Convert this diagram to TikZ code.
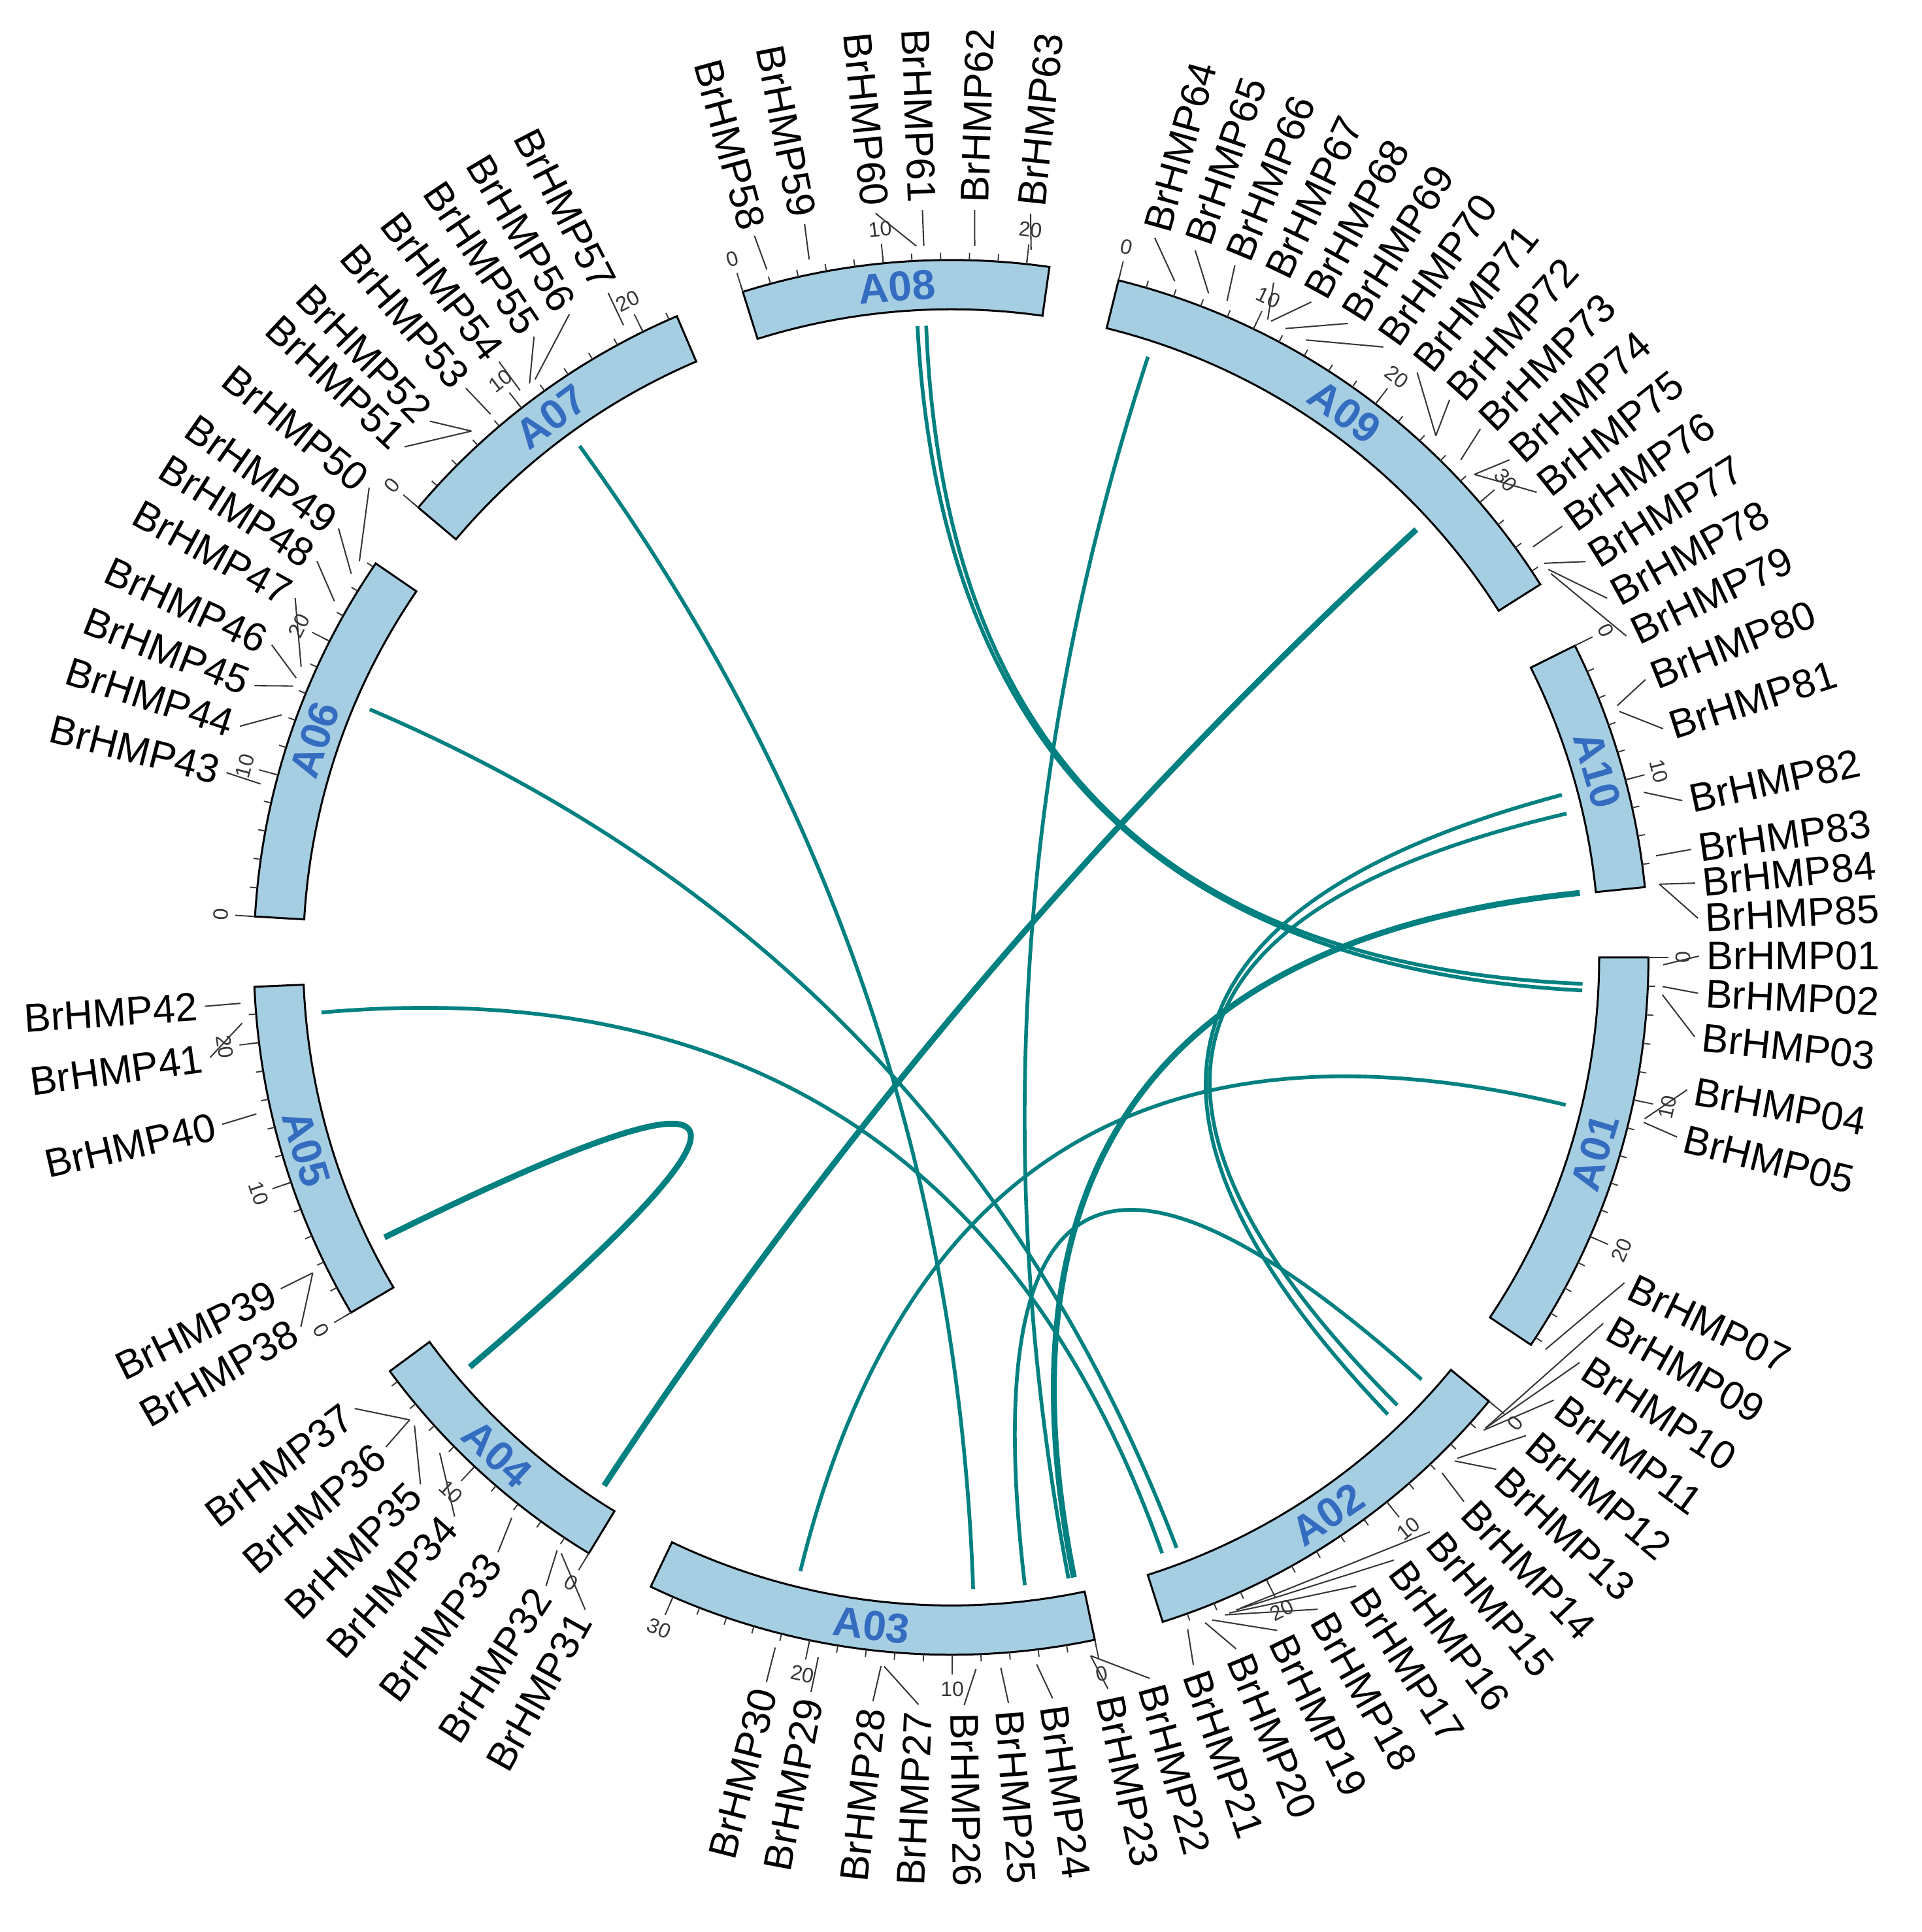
\documentclass[tikz,border=0pt]{standalone}
\usepackage{fontspec}
\setmainfont{Liberation Sans}
\usetikzlibrary{calc}
\definecolor{bandfill}{RGB}{166,206,227}
\definecolor{chrblue}{RGB}{52,108,192}
\definecolor{linkteal}{RGB}{0,128,128}
\definecolor{conngray}{RGB}{55,55,55}
\begin{document}
\begin{tikzpicture}[x=1pt,y=1pt,
  band/.style={draw=black, line width=1.6pt, fill=bandfill},
  tk/.style={draw=conngray, line width=1pt},
  conn/.style={draw=conngray, line width=1.1pt},
  glabR/.style={anchor=west, inner sep=0pt, font=\fontsize{32.5}{34}\selectfont},
  glabL/.style={anchor=east, inner sep=0pt, font=\fontsize{32.5}{34}\selectfont},
  tlab/.style={inner sep=0pt, font=\fontsize{17}{18}\selectfont, text=conngray},
  chrname/.style={text=chrblue, font=\fontsize{34}{36}\selectfont\bfseries, inner sep=0pt},
  lnk/.style={draw=linkteal, line width=3pt},
  lnkb/.style={draw=linkteal, line width=4.8pt}]
\useasboundingbox (-772,-791) rectangle (788,777);
\coordinate (O) at (0,0);

% links (quadratic Bezier through the centre)
\foreach \i/\a/\b/\st in {1/93.05/-3.0/lnk, 2/92.26/-2.4/lnk, 3/42.6/-123.3/lnkb,
  4/71.85/-79.3/lnk, 5/126.0/-88.0/lnk, 6/-153.7/-139.6/lnkb, 7/14.9/-46.3/lnk,
  8/13.15/-45.1/lnk, 9/5.85/-78.8/lnkb, 10/-13.5/-103.8/lnk, 11/156.9/-69.1/lnk,
  12/-175.0/-70.5/lnk, 13/-41.9/-83.3/lnk}{
  \coordinate (la\i) at (\a:513);
  \coordinate (lb\i) at (\b:513);
  \draw[\st] (la\i) .. controls ($(la\i)!0.6667!(O)$) and ($(lb\i)!0.6667!(O)$) .. (lb\i);
}

% chromosomes
\foreach \nm/\s/\L/\last/\maj/\up in {A01/0/28.6/28/{0,10,20}/0,
  A02/-39.53/27.8/26/{0,10,20}/0, A03/-78.11/31.7/30/{0,10,20,30}/0,
  A04/-121.30/18.9/18/{0,10}/0, A05/-149.38/23.9/22/{0,10,20}/0,
  A06/176.64/26.3/26/{0,10,20}/1, A07/139.83/22.6/22/{0,10,20}/1,
  A08/107.38/21.6/20/{0,10,20}/1, A09/76.11/37.1/36/{0,10,20,30}/1,
  A10/26.55/17.6/16/{0,10}/1}{
  \pgfmathsetmacro\e{\s-1.18*\L}
  \draw[band] (\s:526) arc[start angle=\s, end angle=\e, radius=526]
     -- (\e:566) arc[start angle=\e, end angle=\s, radius=566] -- cycle;
  \foreach \p in {0,2,...,\last}{
    \pgfmathsetmacro\a{\s-1.18*\p}
    \draw[tk] (\a:566) -- (\a:572);
  }
  \foreach \p in \maj{
    \pgfmathsetmacro\a{\s-1.18*\p}
    \pgfmathsetmacro\r{\a+90-180*\up}
    \draw[tk] (\a:566) -- (\a:582);
    \node[tlab, rotate=\r] at (\a:594) {\p};
  }
  \pgfmathsetmacro\m{\s-0.59*\L}
  \pgfmathsetmacro\rr{\m+90-180*\up}
  \node[chrname, rotate=\rr] (\nm) at (\m:546) {\nm};
}

% gene labels, right half
\foreach \n/\la/\ba in {62/88.2/88.1, 63/83.9/83.55,
  64/74.2/71.7, 65/70.95/68.8, 66/67.7/67.2, 67/64.45/63.6, 68/61.2/63.3,
  69/57.95/62.0, 70/54.7/60.1, 71/51.45/47.1, 72/48.2/47.1, 73/44.95/44.3,
  74/41.7/42.7, 75/38.45/42.7, 76/35.2/35.2, 77/31.95/33.6, 78/28.7/33.0,
  79/25.45/32.6, 80/21.8/20.7, 81/17.8/20.2, 82/12.1/13.4, 83/8.3/8.2,
  84/5.7/5.9, 85/3.0/5.9, 01/0.1/-0.6, 02/-2.75/-2.35, 03/-6.1/-3.0,
  04/-10.2/-13.1, 05/-13.9/-13.4, 07/-25.8/-33.4, 09/-29.3/-41.4,
  10/-32.8/-41.4, 11/-36.3/-41.6, 12/-39.75/-44.7, 13/-43.2/-45.0,
  14/-46.7/-46.4, 15/-50.2/-66.0, 16/-53.7/-66.4, 17/-57.2/-67.0,
  18/-60.65/-67.4, 19/-64.15/-68.5, 20/-67.6/-69.1, 21/-71.1/-70.6,
  22/-74.6/-78.7, 23/-77.9/-78.7, 24/-82.2/-83.1, 25/-85.6/-86.0,
  26/-89.0/-88.0}{
  \coordinate (b\n) at (\ba:578);
  \coordinate (e\n) at (\la:607);
  \draw[conn] (b\n) -- (e\n);
  \node[glabR, rotate=\la] (g\n) at (\la:613) {BrHMP\n};
}

% gene labels, left half
\foreach \n/\la/\ba in {27/-92.5/-95.4, 28/-96.0/-95.65, 29/-100.8/-100.75,
  30/-104.3/-104.3, 31/-119.3/-123.2, 32/-122.8/-123.6, 33/-127.3/-128.1,
  34/-131.6/-135.9, 35/-135.2/-138.9, 36/-139.1/-139.5, 37/-142.9/-139.5,
  38/-150.4/-153.7, 39/-153.7/-153.7, 40/-167.1/-167.3, 41/-172.3/-174.7,
  42/-176.25/-176.3, 43/165.7/165.9, 44/162.0/160.1, 45/158.7/157.6,
  46/155.3/156.9, 47/151.3/155.9, 48/148.0/150.0, 49/145.0/147.4,
  50/141.1/146.2, 51/136.95/132.35, 52/134.2/132.35, 53/130.45/130.3,
  54/127.2/127.25, 55/123.9/126.3, 56/120.7/125.75, 57/117.3/117.4,
  58/105.25/105.0, 59/101.3/101.5, 60/95.8/92.8, 61/92.2/92.2}{
  \coordinate (b\n) at (\ba:578);
  \coordinate (e\n) at (\la:607);
  \draw[conn] (b\n) -- (e\n);
  \node[glabL, rotate=\la+180] (g\n) at (\la:613) {BrHMP\n};
}
\end{tikzpicture}
\end{document}
